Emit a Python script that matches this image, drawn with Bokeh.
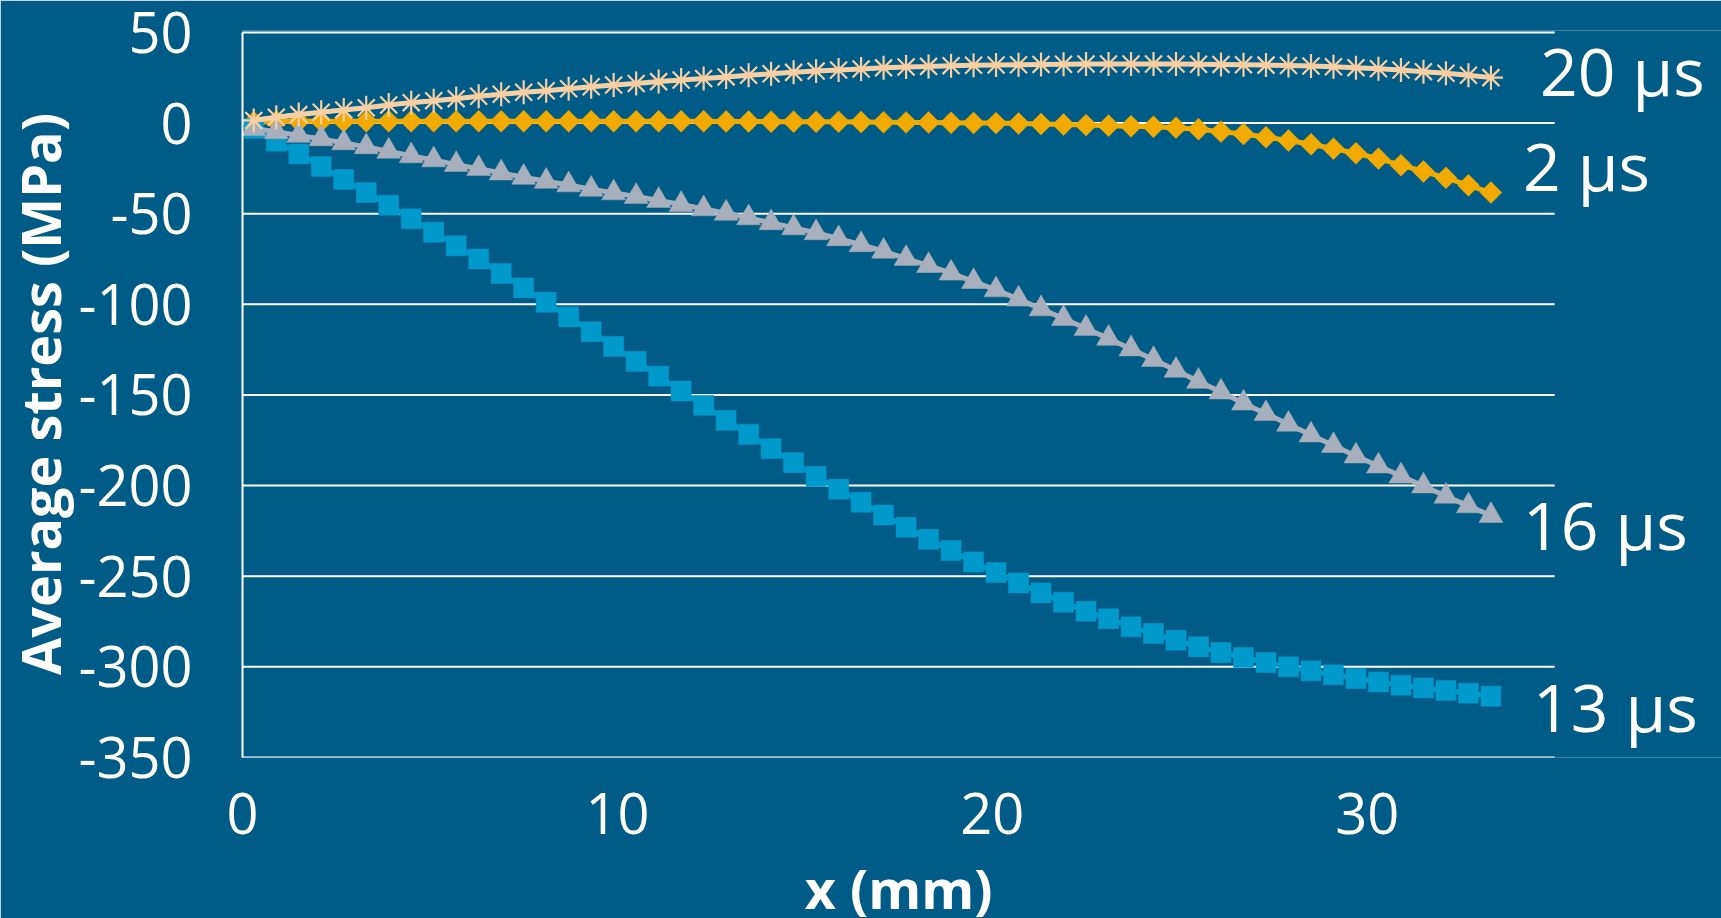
import numpy as np
from bokeh.plotting import figure
from bokeh.models import Range1d, FixedTicker, Label
from bokeh.embed import file_html
from bokeh.resources import INLINE

# Position along the specimen (mm)
x_mm = [0.3, 0.9, 1.5, 2.1, 2.7, 3.3, 3.9, 4.5, 5.1, 5.7,
        6.3, 6.9, 7.5, 8.1, 8.7, 9.3, 9.9, 10.5, 11.1, 11.7,
        12.3, 12.9, 13.5, 14.1, 14.7, 15.3, 15.9, 16.5, 17.1, 17.7,
        18.3, 18.9, 19.5, 20.1, 20.7, 21.3, 21.9, 22.5, 23.1, 23.7,
        24.3, 24.9, 25.5, 26.1, 26.7, 27.3, 27.9, 28.5, 29.1, 29.7,
        30.3, 30.9, 31.5, 32.1, 32.7, 33.3]

# Average stress (MPa) at each time
stress_2us = [0.5, 0.9, 1.0, 1.0, 1.0, 1.0, 1.0, 1.0, 1.0, 1.0,
              1.0, 1.0, 1.0, 1.0, 1.0, 1.0, 1.0, 1.0, 1.0, 1.0,
              1.0, 0.9, 0.9, 0.8, 0.8, 0.7, 0.7, 0.6, 0.5, 0.4,
              0.3, 0.2, 0.1, 0.0, -0.2, -0.5, -0.8, -1.1, -1.4, -1.7,
              -2.0, -2.5, -3.4, -4.7, -6.0, -7.8, -9.6, -11.7, -14.1, -16.6,
              -19.6, -23.2, -26.7, -30.2, -34.3, -38.3]

stress_13us = [-2.9, -10.0, -17.0, -24.0, -31.1, -38.3, -45.3, -52.8, -60.2, -67.7,
               -75.0, -83.0, -90.9, -98.8, -106.9, -115.1, -123.2, -131.5, -139.6, -147.8,
               -155.7, -164.0, -171.7, -179.6, -187.3, -194.9, -202.0, -209.2, -216.2, -223.0,
               -229.6, -235.8, -242.1, -248.0, -253.7, -259.2, -264.3, -269.3, -273.4, -277.9,
               -281.6, -285.3, -288.9, -292.1, -294.8, -297.6, -300.0, -302.2, -304.4, -306.4,
               -308.3, -310.1, -311.6, -313.0, -314.5, -316.2]

stress_16us = [-3.0, -4.8, -6.8, -8.7, -10.9, -13.1, -15.5, -18.1, -20.3, -22.9,
               -25.1, -27.5, -29.9, -32.1, -34.1, -36.5, -38.5, -40.5, -42.7, -44.9,
               -47.3, -49.7, -52.3, -55.0, -57.8, -60.5, -63.8, -67.1, -70.7, -74.7,
               -78.6, -82.8, -87.4, -92.0, -97.1, -102.5, -107.8, -113.3, -118.8, -124.6,
               -130.5, -136.4, -142.5, -148.4, -154.5, -160.3, -166.2, -172.1, -177.9, -183.7,
               -189.2, -194.7, -200.2, -205.9, -211.2, -216.5]

stress_20us = [1.5, 3.2, 4.7, 6.0, 7.3, 8.5, 10.0, 11.3, 12.4, 13.5,
               14.8, 15.9, 17.0, 17.9, 19.0, 20.1, 21.0, 21.9, 22.9, 23.8,
               24.6, 25.5, 26.4, 27.2, 28.0, 28.7, 29.3, 29.9, 30.5, 31.0,
               31.3, 31.7, 31.9, 32.1, 32.2, 32.4, 32.5, 32.6, 32.6, 32.6,
               32.6, 32.6, 32.5, 32.4, 32.2, 32.0, 31.8, 31.5, 31.1, 30.6,
               30.0, 29.3, 28.4, 27.5, 26.4, 25.1]

series_names = ["2 \u03bcs", "13 \u03bcs", "16 \u03bcs", "20 \u03bcs"]
x_ticks = [0, 10, 20, 30]
y_ticks = [50, 0, -50, -100, -150, -200, -250, -300, -350]
x_axis_max = 35          # extent of the gridded plot area (mm)
x_view_max = 39.45       # room on the right for the curve names

BG = "#005B86"
FONT = "Open Sans"

p = figure(width=1721, height=918, output_backend="svg", toolbar_location=None,
           x_range=Range1d(0, x_view_max), y_range=Range1d(-350, 51.1),
           min_border_left=241, min_border_right=0,
           min_border_top=30, min_border_bottom=161)

p.background_fill_color = BG
p.border_fill_color = BG
p.outline_line_color = None
p.xgrid.grid_line_color = None
p.ygrid.grid_line_color = None

# horizontal gridlines stop at the end of the x axis
p.segment(x0=[0] * len(y_ticks), x1=[x_axis_max] * len(y_ticks),
          y0=y_ticks, y1=y_ticks, line_color="white", line_width=2)

p.xaxis.ticker = FixedTicker(ticks=x_ticks)
p.yaxis.ticker = FixedTicker(ticks=y_ticks)
p.yaxis.major_label_overrides = {t: str(t) for t in y_ticks}
p.yaxis.bounds = (y_ticks[-1], y_ticks[0])
p.xaxis.bounds = (0, x_axis_max)

for ax in (p.xaxis[0], p.yaxis[0]):
    ax.major_tick_line_color = None
    ax.minor_tick_line_color = None
    ax.major_tick_out = 0
    ax.major_tick_in = 0
    ax.minor_tick_out = 0
    ax.major_label_text_color = "white"
    ax.major_label_text_font = FONT
    ax.major_label_text_font_size = "56px"
    ax.major_label_text_line_height = 1.0
    ax.axis_label_text_color = "white"
    ax.axis_label_text_font = FONT
    ax.axis_label_text_font_style = "bold"
    ax.axis_label_text_font_size = "54px"
    ax.axis_label_text_line_height = 1.0

p.xaxis.axis_line_color = None
p.yaxis.axis_line_color = "white"
p.yaxis.axis_line_width = 2
p.yaxis.major_label_standoff = 50
p.yaxis.axis_label_standoff = -2
p.xaxis.major_label_standoff = 35
p.yaxis.axis_label = "Average stress (MPa)"

# 2 us: gold diamonds
p.line(x_mm, stress_2us, line_color="#F0AA00", line_width=5)
p.scatter(x_mm, stress_2us, marker="square", size=15.5, angle=np.pi / 4,
          fill_color="#F0AA00", line_color="#F0AA00", line_width=0.5)

# 13 us: blue squares
p.line(x_mm, stress_13us, line_color="#0099C9", line_width=5)
p.scatter(x_mm, stress_13us, marker="square", size=20,
          fill_color="#0099C9", line_color="#0099C9", line_width=0.5)

# 16 us: grey triangles
p.line(x_mm, stress_16us, line_color="#A6AFBB", line_width=5)
p.scatter(x_mm, stress_16us, marker="triangle", size=24,
          fill_color="#A6AFBB", line_color="#A6AFBB", line_width=0.5)

# 20 us: peach asterisks
p.line(x_mm, stress_20us, line_color="#F6CFA5", line_width=5)
p.scatter(x_mm, stress_20us, marker="asterisk", size=24,
          line_color="#F6CFA5", line_width=2.2)

# Series names at the end of each curve
end_labels = [
    (series_names[3], stress_20us[-1], 49, 8),
    (series_names[0], stress_2us[-1], 32, 28),
    (series_names[2], stress_16us[-1], 32, -8),
    (series_names[1], stress_13us[-1], 42, -10),
]
for text, yv, dx, dy in end_labels:
    p.add_layout(Label(x=x_mm[-1], y=yv, x_offset=dx, y_offset=dy, text=text,
                       text_color="white", text_font=FONT, text_font_size="66px",
                       text_baseline="middle", text_align="left"))

# x-axis title, centred under the gridded span in the bottom margin
p.add_layout(Label(x=x_axis_max / 2, y=y_ticks[-1], y_offset=-130, text="x (mm)",
                   text_color="white", text_font=FONT, text_font_size="54px",
                   text_font_style="bold", text_baseline="alphabetic",
                   text_align="center"), "below")

open("out.html", "w").write(file_html(p, INLINE))
